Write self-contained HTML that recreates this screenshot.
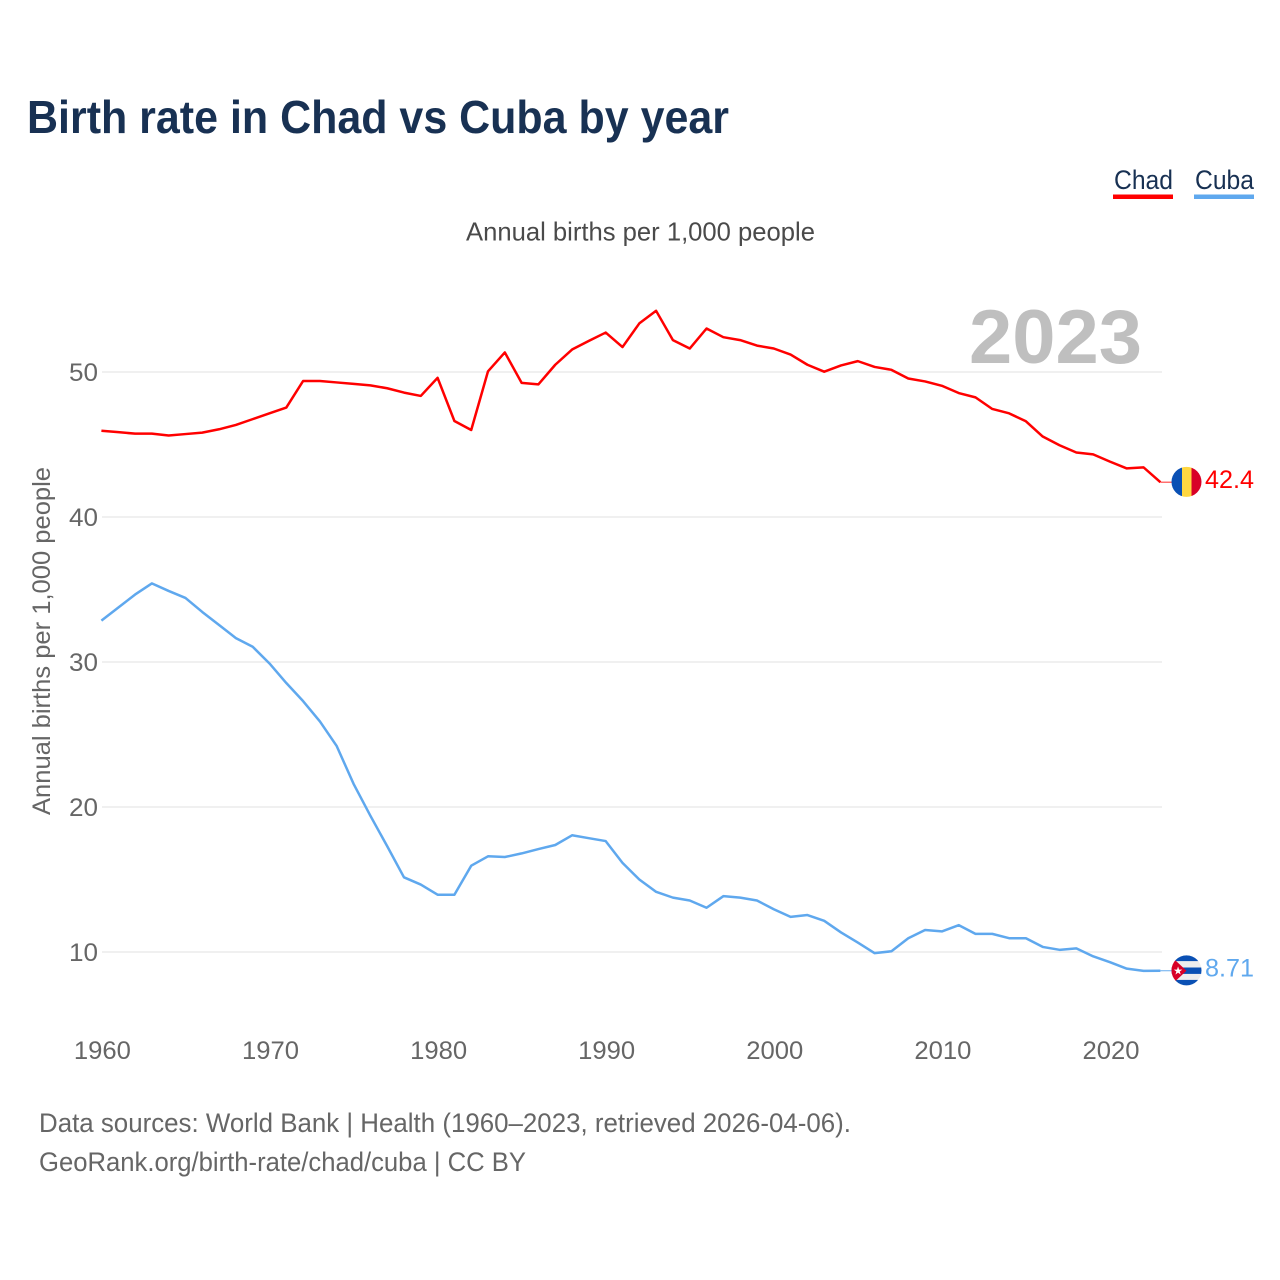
<!DOCTYPE html>
<html lang="en">
<head>
<meta charset="utf-8">
<title>Birth rate in Chad vs Cuba by year</title>
<style>
html,body{margin:0;padding:0;background:#fff;}
svg{display:block;font-family:"Liberation Sans",sans-serif;}
</style>
</head>
<body>
<svg id="chart" width="1280" height="1280" viewBox="0 0 1280 1280" xmlns="http://www.w3.org/2000/svg">
  <defs>
    <clipPath id="flag-clip-chad"><circle id="clip-chad" r="15"></circle></clipPath>
    <clipPath id="flag-clip-cuba"><circle id="clip-cuba" r="15"></circle></clipPath>
  </defs>
  <text x="27" y="133" font-size="46" font-weight="700" fill="#183153" textLength="702" lengthAdjust="spacingAndGlyphs">Birth rate in Chad vs Cuba by year</text>
  <text x="1114" y="189" font-size="26.5" fill="#183153" textLength="59" lengthAdjust="spacingAndGlyphs">Chad</text>
  <rect x="1113" y="194.5" width="60" height="4.5" fill="#ff0000"></rect>
  <text x="1195" y="189" font-size="26.5" fill="#183153" textLength="59" lengthAdjust="spacingAndGlyphs">Cuba</text>
  <rect x="1194" y="194.5" width="60" height="4.5" fill="#5fa8ee"></rect>
  <text x="466" y="240.5" font-size="26" fill="#4a4a4a" textLength="349" lengthAdjust="spacingAndGlyphs">Annual births per 1,000 people</text>
  <text x="969" y="363" font-size="76" font-weight="700" fill="#bfbfbf" textLength="173" lengthAdjust="spacingAndGlyphs">2023</text>
  <text transform="translate(50,815) rotate(-90)" x="0" y="0" font-size="25" fill="#666666" textLength="348" lengthAdjust="spacingAndGlyphs">Annual births per 1,000 people</text>
  <g id="grid"></g>
  <g id="yticks"></g>
  <g id="xticks"></g>
  <g id="series"></g>
  <g id="flag-chad" clip-path="url(#flag-clip-chad)"></g>
  <g id="flag-cuba" clip-path="url(#flag-clip-cuba)"></g>
  <g id="end-labels"></g>
  <text x="39" y="1132" font-size="26.5" fill="#666666" textLength="812" lengthAdjust="spacingAndGlyphs">Data sources: World Bank | Health (1960–2023, retrieved 2026-04-06).</text>
  <text x="39" y="1171" font-size="26.5" fill="#666666" textLength="487" lengthAdjust="spacingAndGlyphs">GeoRank.org/birth-rate/chad/cuba | CC BY</text>
</svg>
<script>
const startYear = 1960;
const chadValues = [45.95,45.85,45.75,45.75,45.62,45.72,45.82,46.05,46.35,46.75,47.15,47.55,49.38,49.38,49.28,49.18,49.08,48.88,48.58,48.35,49.6,46.62,46.0,50.05,51.35,49.25,49.15,50.5,51.55,52.15,52.72,51.72,53.35,54.22,52.2,51.62,53.0,52.4,52.2,51.82,51.62,51.2,50.5,50.02,50.45,50.75,50.35,50.15,49.55,49.35,49.05,48.55,48.25,47.45,47.15,46.6,45.55,44.95,44.45,44.32,43.82,43.35,43.42,42.4];
const cubaValues = [32.85,33.75,34.65,35.42,34.9,34.42,33.45,32.55,31.65,31.05,29.9,28.55,27.3,25.9,24.2,21.6,19.4,17.3,15.15,14.65,13.95,13.95,15.95,16.6,16.55,16.8,17.1,17.38,18.05,17.85,17.65,16.15,15.0,14.15,13.75,13.55,13.05,13.85,13.75,13.55,12.95,12.42,12.55,12.15,11.35,10.65,9.92,10.05,10.95,11.52,11.42,11.85,11.25,11.25,10.95,10.95,10.35,10.15,10.25,9.7,9.3,8.85,8.7,8.71];
const yTicks = [10,20,30,40,50];
const xTicks = [1960,1970,1980,1990,2000,2010,2020];
const chadLabel = "42.4";
const cubaLabel = "8.71";

const NS = "http://www.w3.org/2000/svg";
function xScale(year){ return 101.4 + (year - 1960) * (1059 / 63); }
function yScale(v){ return 372 + (50 - v) * 14.5; }
function make(tag, attrs, parent, text){
  const el = document.createElementNS(NS, tag);
  for (const k in attrs) el.setAttribute(k, attrs[k]);
  if (text !== undefined) el.textContent = text;
  parent.appendChild(el);
  return el;
}
const grid = document.getElementById('grid');
const yG = document.getElementById('yticks');
const xG = document.getElementById('xticks');
const series = document.getElementById('series');
const endG = document.getElementById('end-labels');

yTicks.forEach(function(t){
  const line = make('line', {x1:102, x2:1162, y1:yScale(t), y2:yScale(t), stroke:'#ebebeb', 'stroke-width':1.5}, grid);
  
  
  const lab = make('text', {x:98, y:yScale(t)+9, 'text-anchor':'end', 'font-size':25, fill:'#666666', textLength:29, lengthAdjust:'spacingAndGlyphs'}, yG, String(t));
  
  
});
xTicks.forEach(function(t){
  const lab = make('text', {x:xScale(t)+1, y:1059, 'text-anchor':'middle', 'font-size':25, fill:'#666666', textLength:57, lengthAdjust:'spacingAndGlyphs'}, xG, String(t));
  
  
});
function pathFor(vals){
  return vals.map(function(v,i){
    return (i ? 'L' : 'M') + xScale(startYear + i).toFixed(2) + ' ' + yScale(v).toFixed(2);
  }).join(' ');
}
const lastYear = startYear + chadValues.length - 1;
const chadEndY = yScale(chadValues[chadValues.length - 1]);
const cubaEndY = yScale(cubaValues[cubaValues.length - 1]);
const chadLine = make('path', {d:pathFor(chadValues), fill:'none', stroke:'#ff0000', 'stroke-width':2.5, 'stroke-linejoin':'round'}, series);


const cubaLine = make('path', {d:pathFor(cubaValues), fill:'none', stroke:'#5fa8ee', 'stroke-width':2.5, 'stroke-linejoin':'round'}, series);


const chadLead = make('line', {x1:xScale(lastYear), x2:1172, y1:chadEndY, y2:chadEndY, stroke:'#ff0000', 'stroke-width':1.2, opacity:0.7}, series);


const cubaLead = make('line', {x1:xScale(lastYear), x2:1172, y1:cubaEndY, y2:cubaEndY, stroke:'#5fa8ee', 'stroke-width':1.2, opacity:0.8}, series);



// flags
const cx = 1186.5;
const cc = document.getElementById('clip-chad');
cc.setAttribute('cx', cx); cc.setAttribute('cy', chadEndY - 0.3);
const cu = document.getElementById('clip-cuba');
cu.setAttribute('cx', cx); cu.setAttribute('cy', cubaEndY - 0.3);
const fc = document.getElementById('flag-chad');
make('rect', {x:cx-15, y:chadEndY-16, width:10.5, height:32, fill:'#0a50b4'}, fc);
make('rect', {x:cx-4.5, y:chadEndY-16, width:9.5, height:32, fill:'#ffd740'}, fc);
make('rect', {x:cx+5, y:chadEndY-16, width:10, height:32, fill:'#d80027'}, fc);
const fu = document.getElementById('flag-cuba');
make('rect', {x:cx-15, y:cubaEndY-16, width:30, height:32, fill:'#eeeeee'}, fu);
[-16,-3.2,9.2].forEach(function(o){
  make('rect', {x:cx-15, y:cubaEndY+o, width:30, height:6.4, fill:'#0a50b4'}, fu);
});
make('path', {d:'M'+(cx-15)+' '+(cubaEndY-14)+' L'+(cx+0)+' '+cubaEndY+' L'+(cx-15)+' '+(cubaEndY+14)+' Z', fill:'#d80027'}, fu);
make('text', {x:cx-8.5, y:cubaEndY+4, 'text-anchor':'middle', 'font-size':11, fill:'#ffffff', style:'font-family:"DejaVu Sans",sans-serif'}, fu, '★');

const chadText = make('text', {x:1205, y:chadEndY+6, 'font-size':25, fill:'#ff0000', textLength:49, lengthAdjust:'spacingAndGlyphs'}, endG, chadLabel);


const cubaText = make('text', {x:1205, y:cubaEndY+6, 'font-size':25, fill:'#5fa8ee', textLength:49, lengthAdjust:'spacingAndGlyphs'}, endG, cubaLabel);


</script>
</body>
</html>
